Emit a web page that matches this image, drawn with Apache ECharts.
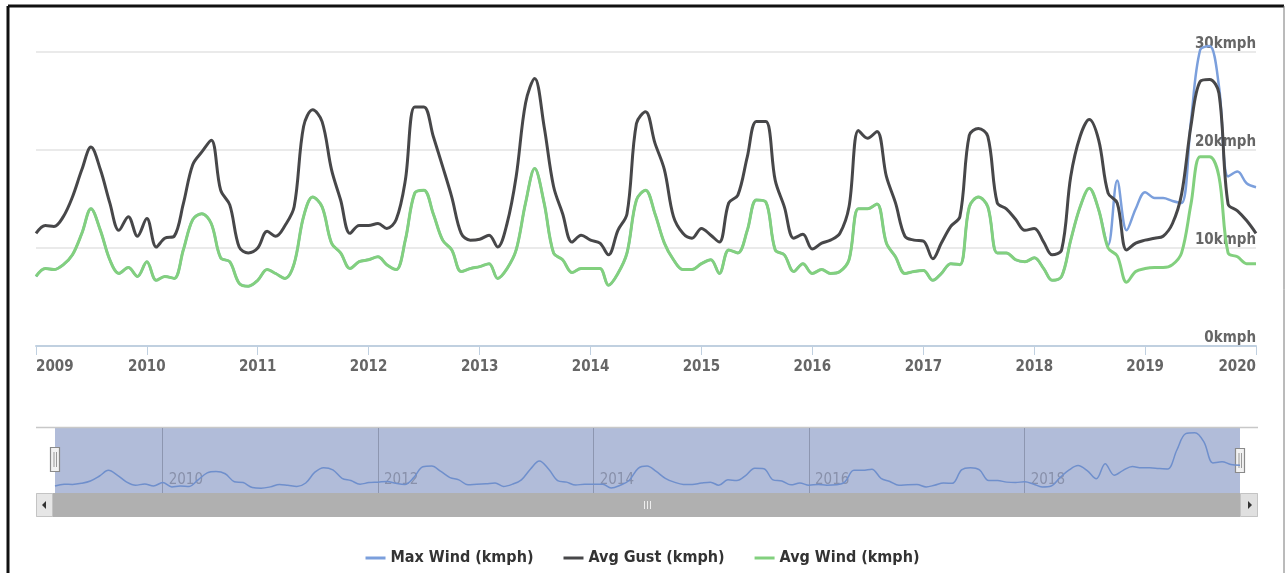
<!DOCTYPE html>
<html>
<head>
<meta charset="utf-8">
<script src="https://cdn.jsdelivr.net/npm/echarts@6/dist/echarts.min.js"></script>
<style>
  html, body { margin: 0; padding: 0; background: #fff; }
  #chart { width: 1285px; height: 573px; }
</style>
</head>
<body>
<div id="chart"></div>
<script>
// monthly values, Jan 2009 .. Jan 2020
const startYear = 2009
const avgGust = [
  11.5, 12.3, 12.2, 13.2, 15.2, 18.0, 20.3, 18.0, 14.6, 11.8, 13.2, 11.2,
  13.0, 10.1, 11.0, 11.2, 14.5, 18.5, 19.8, 21.0, 15.9, 14.4, 10.1, 9.5,
  10.0, 11.7, 11.2, 12.3, 14.2, 22.4, 24.1, 22.9, 18.0, 14.9, 11.5, 12.3,
  12.3, 12.5, 12.0, 12.9, 16.9, 24.4, 24.4, 21.4, 18.3, 15.2, 11.5, 10.8,
  10.9, 11.3, 10.1, 12.5, 17.3, 24.8, 27.3, 22.4, 16.3, 13.5, 10.6, 11.3,
  10.8, 10.5, 9.3, 11.8, 13.5, 22.7, 23.9, 20.7, 18.0, 13.2, 11.5, 11.0,
  12.0, 11.3, 10.6, 14.6, 15.4, 19.3, 22.9, 22.9, 16.9, 14.2, 11.0, 11.4,
  9.9, 10.5, 10.8, 11.5, 14.2, 22.0, 21.2, 21.9, 17.3, 14.6, 11.2, 10.8,
  10.7, 8.9, 10.5, 12.2, 13.2, 21.5, 22.2, 21.4, 14.6, 14.0, 12.9, 11.8,
  12.0, 10.6, 9.3, 9.8, 17.3, 21.4, 23.1, 21.0, 15.6, 14.6, 9.8, 10.5,
  10.8, 11.0, 11.2, 12.5, 15.5, 22.5, 27.0, 27.2, 25.8, 14.5, 13.8, 12.8,
  11.5
]
const avgWind = [
  7.1, 7.9, 7.8, 8.3, 9.3, 11.5, 14.0, 11.8, 8.8, 7.4, 8.0, 7.1,
  8.6, 6.7, 7.1, 6.9, 9.8, 12.9, 13.5, 12.5, 9.0, 8.6, 6.4, 6.1,
  6.7, 7.8, 7.4, 6.9, 8.4, 13.2, 15.2, 14.2, 10.5, 9.5, 7.9, 8.6,
  8.8, 9.1, 8.3, 7.8, 10.8, 15.6, 15.9, 13.5, 10.8, 9.8, 7.6, 7.9,
  8.1, 8.4, 6.9, 7.9, 9.8, 14.6, 18.1, 14.6, 9.5, 8.8, 7.5, 7.9,
  7.9, 7.9, 6.2, 7.4, 9.5, 14.9, 15.9, 13.5, 10.5, 8.8, 7.8, 7.8,
  8.4, 8.8, 7.4, 9.8, 9.5, 11.8, 14.9, 14.7, 9.8, 9.3, 7.6, 8.4,
  7.4, 7.8, 7.4, 7.6, 8.8, 14.0, 14.0, 14.5, 10.5, 9.1, 7.4, 7.6,
  7.7, 6.7, 7.4, 8.4, 8.3, 14.2, 15.2, 14.2, 9.5, 9.5, 8.8, 8.6,
  9.0, 7.9, 6.7, 7.1, 10.8, 14.2, 16.1, 13.9, 10.0, 9.2, 6.5, 7.6,
  7.9, 8.0, 8.0, 8.3, 9.5, 14.5, 19.3, 19.3, 17.3, 9.5, 9.1, 8.4,
  8.4
]
// hidden under the green line until Sep 2018
const maxWind = [
  7.1, 7.9, 7.8, 8.3, 9.3, 11.5, 14.0, 11.8, 8.8, 7.4, 8.0, 7.1,
  8.6, 6.7, 7.1, 6.9, 9.8, 12.9, 13.5, 12.5, 9.0, 8.6, 6.4, 6.1,
  6.7, 7.8, 7.4, 6.9, 8.4, 13.2, 15.2, 14.2, 10.5, 9.5, 7.9, 8.6,
  8.8, 9.1, 8.3, 7.8, 10.8, 15.6, 15.9, 13.5, 10.8, 9.8, 7.6, 7.9,
  8.1, 8.4, 6.9, 7.9, 9.8, 14.6, 18.1, 14.6, 9.5, 8.8, 7.5, 7.9,
  7.9, 7.9, 6.2, 7.4, 9.5, 14.9, 15.9, 13.5, 10.5, 8.8, 7.8, 7.8,
  8.4, 8.8, 7.4, 9.8, 9.5, 11.8, 14.9, 14.7, 9.8, 9.3, 7.6, 8.4,
  7.4, 7.8, 7.4, 7.6, 8.8, 14.0, 14.0, 14.5, 10.5, 9.1, 7.4, 7.6,
  7.7, 6.7, 7.4, 8.4, 8.3, 14.2, 15.2, 14.2, 9.5, 9.5, 8.8, 8.6,
  9.0, 7.9, 6.7, 7.1, 10.8, 14.2, 16.1, 13.9, 10.3, 16.9, 11.8, 14.0,
  15.7, 15.1, 15.1, 14.8, 14.6, 23.0, 30.2, 30.6, 26.5, 17.3, 17.8, 16.6,
  16.2
]
const seriesNames = ['Max Wind (kmph)', 'Avg Gust (kmph)', 'Avg Wind (kmph)']
const colors = ['#7b9fdc', '#474749', '#82d07e']
const yTicks = [0, 10, 20, 30]
const yearTicks = [2009, 2010, 2011, 2012, 2013, 2014, 2015, 2016, 2017, 2018, 2019, 2020]
const navTicks = [2010, 2012, 2014, 2016, 2018]

// x values are timestamps on a plain value axis so the year ticks can be placed exactly
const toTime = (y, m) => +echarts.time.parse(y + '-' + String(m).padStart(2, '0') + '-01')
const months = []
for (let i = 0; i < avgGust.length; i++) {
  months.push(toTime(startYear + Math.floor(i / 12), (i % 12) + 1))
}
const pairs = arr => arr.map((v, i) => [months[i], v])
const yearTime = y => toTime(y, 1)
const yearOf = v => String(new Date(v + 12 * 3600 * 1000).getFullYear())

const font = 'DejaVu Sans Condensed'
const xMin = yearTime(yearTicks[0])
const xMax = yearTime(yearTicks[yearTicks.length - 1])

const chart = echarts.init(document.getElementById('chart'))

const lineSeries = (name, data, color, width) => ({
  name: name,
  type: 'line',
  data: pairs(data),
  smooth: 0.35,
  symbol: 'none',
  clip: false,
  lineStyle: { color: color, width: width },
  itemStyle: { color: color },
  emphasis: { disabled: true }
})

const option = {
  animation: false,
  backgroundColor: '#fff',
  color: colors,
  grid: [
    { left: 36, right: 29, top: 52, height: 294 },
    { left: 55, right: 45, top: 428, height: 65, show: true, backgroundColor: '#b1bcd9', borderWidth: 0 }
  ],
  legend: {
    data: seriesNames,
    left: 'center',
    top: 545,
    icon: 'rect',
    itemWidth: 20,
    itemHeight: 3,
    itemGap: 30,
    textStyle: { fontFamily: font, fontWeight: 'bold', fontSize: 16, color: '#333' }
  },
  xAxis: [
    {
      type: 'value',
      gridIndex: 0,
      min: xMin,
      max: xMax,
      axisLine: { lineStyle: { color: '#c0d0e0', width: 2 } },
      axisTick: { show: true, length: 9, customValues: yearTicks.map(yearTime), lineStyle: { color: '#c0d0e0', width: 1 } },
      splitLine: { show: false },
      axisLabel: {
        customValues: yearTicks.map(yearTime),
        formatter: yearOf,
        margin: 14,
        color: '#666',
        fontFamily: font,
        fontWeight: 'bold',
        fontSize: 15,
        alignMinLabel: 'left',
        alignMaxLabel: 'right',
        hideOverlap: false
      }
    },
    {
      type: 'value',
      gridIndex: 1,
      min: xMin,
      max: xMax,
      axisLine: { show: false },
      axisTick: { show: false, customValues: navTicks.map(yearTime) },
      splitLine: { show: true, lineStyle: { color: '#8d96b0', width: 1 } },
      axisLabel: {
        customValues: navTicks.map(yearTime),
        formatter: yearOf,
        inside: true,
        margin: 5,
        align: 'left',
        padding: [0, 0, 0, 6],
        color: '#8890aa',
        fontFamily: font,
        fontSize: 15
      }
    }
  ],
  yAxis: [
    {
      type: 'value',
      gridIndex: 0,
      position: 'right',
      min: yTicks[0],
      max: yTicks[yTicks.length - 1],
      interval: 10,
      axisLine: { show: false },
      axisTick: { show: false },
      splitLine: { lineStyle: { color: '#e3e3e3', width: 1.5 } },
      axisLabel: {
        inside: true,
        margin: 0,
        verticalAlign: 'bottom',
        formatter: '{value}kmph',
        color: '#666',
        fontFamily: font,
        fontWeight: 'bold',
        fontSize: 15
      }
    },
    {
      type: 'value',
      gridIndex: 1,
      min: 4,
      max: 32.7,
      show: false
    }
  ],
  series: [
    lineSeries(seriesNames[0], maxWind, colors[0], 2.5),
    lineSeries(seriesNames[1], avgGust, colors[1], 3),
    lineSeries(seriesNames[2], avgWind, colors[2], 3),
    {
      name: 'navigator',
      type: 'line',
      xAxisIndex: 1,
      yAxisIndex: 1,
      data: pairs(maxWind),
      smooth: 0.35,
      symbol: 'none',
      silent: true,
      lineStyle: { color: '#6f8fcc', width: 1.5 },
      emphasis: { disabled: true }
    }
  ],
  graphic: [
    // screenshot frame
    { type: 'line', shape: { x1: 8, y1: 6, x2: 8, y2: 573 }, style: { stroke: '#111', lineWidth: 3 } },
    { type: 'line', shape: { x1: 8, y1: 6, x2: 1284, y2: 6 }, style: { stroke: '#111', lineWidth: 3 } },
    { type: 'line', shape: { x1: 1284, y1: 6, x2: 1284, y2: 573 }, style: { stroke: '#777', lineWidth: 1 } },
    // navigator outline
    { type: 'line', shape: { x1: 36, y1: 427.5, x2: 1258, y2: 427.5 }, style: { stroke: '#c8c8c8', lineWidth: 1.5 } },
    // scrollbar
    { type: 'rect', shape: { x: 36, y: 493, width: 1222, height: 24 }, style: { fill: '#d6d6d6' } },
    { type: 'rect', shape: { x: 52, y: 493, width: 1188, height: 24 }, style: { fill: '#b0b0b0' } },
    { type: 'rect', shape: { x: 36.5, y: 493.5, width: 16, height: 23 }, style: { fill: '#e6e6e6', stroke: '#c4c4c4' } },
    { type: 'rect', shape: { x: 1240.5, y: 493.5, width: 17, height: 23 }, style: { fill: '#e0e0e0', stroke: '#c4c4c4' } },
    { type: 'polygon', shape: { points: [[42, 505], [46, 501], [46, 509]] }, style: { fill: '#333' } },
    { type: 'polygon', shape: { points: [[1252, 505], [1248, 501], [1248, 509]] }, style: { fill: '#333' } },
    { type: 'line', shape: { x1: 644.5, y1: 501, x2: 644.5, y2: 509 }, style: { stroke: '#eee', lineWidth: 1 } },
    { type: 'line', shape: { x1: 647.5, y1: 501, x2: 647.5, y2: 509 }, style: { stroke: '#eee', lineWidth: 1 } },
    { type: 'line', shape: { x1: 650.5, y1: 501, x2: 650.5, y2: 509 }, style: { stroke: '#eee', lineWidth: 1 } },
    // navigator handles
    { type: 'rect', shape: { x: 50.5, y: 447.5, width: 9, height: 24 }, style: { fill: '#f2f2f2', stroke: '#8a8a8a', lineWidth: 1.2 } },
    { type: 'line', shape: { x1: 54, y1: 452, x2: 54, y2: 467 }, style: { stroke: '#999', lineWidth: 1 } },
    { type: 'line', shape: { x1: 56.5, y1: 452, x2: 56.5, y2: 467 }, style: { stroke: '#999', lineWidth: 1 } },
    { type: 'rect', shape: { x: 1235.5, y: 448.5, width: 9, height: 24 }, style: { fill: '#f2f2f2', stroke: '#8a8a8a', lineWidth: 1.2 } },
    { type: 'line', shape: { x1: 1239, y1: 453, x2: 1239, y2: 468 }, style: { stroke: '#999', lineWidth: 1 } },
    { type: 'line', shape: { x1: 1241.5, y1: 453, x2: 1241.5, y2: 468 }, style: { stroke: '#999', lineWidth: 1 } }
  ]
}

chart.setOption(option)
</script>
</body>
</html>
